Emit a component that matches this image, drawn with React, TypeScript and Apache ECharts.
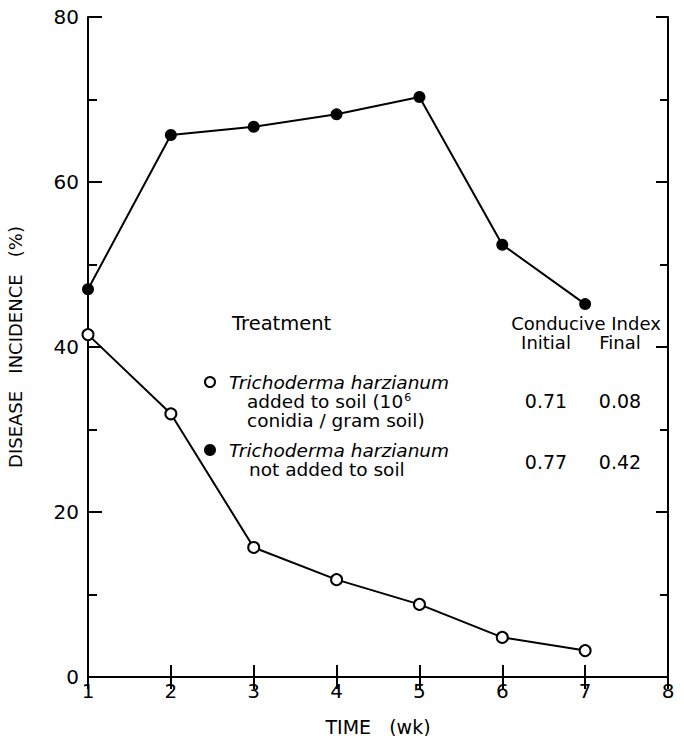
import React, { useEffect, useRef } from "react";
import * as echarts from "echarts";

const weeks = [1, 2, 3, 4, 5, 6, 7];
const notAdded = [47.0, 65.7, 66.7, 68.2, 70.3, 52.4, 45.2];
const added = [41.5, 31.9, 15.7, 11.8, 8.8, 4.8, 3.2];
const xTicks = [1, 2, 3, 4, 5, 6, 7, 8];
const yTicks = [0, 20, 40, 60, 80];
const indexHeader = ["Conducive Index", "Initial", "Final"];
const indexAdded = ["0.71", "0.08"];
const indexNotAdded = ["0.77", "0.42"];

const FONT = "DejaVu Sans";

function measure(text: string, font: string): number {
  const c = document.createElement("canvas").getContext("2d");
  if (!c) return text.length * 10;
  c.font = font;
  return c.measureText(text).width;
}

export default function App() {
  const ref = useRef<HTMLDivElement>(null);
  useEffect(() => {
    if (!ref.current) return;
    const chart = echarts.init(ref.current, null, { renderer: "svg" });
    const axisLine = { show: true, lineStyle: { color: "#000", width: 2 } };
    const txt = (x: number, y: number, text: string, size: number, extra: any = {}) => ({
      type: "text",
      x,
      y,
      style: {
        text,
        fill: "#000",
        font: `${size}px "${FONT}"`,
        lineHeight: size,
        textVerticalAlign: "middle",
        ...extra,
      },
    });
    const lineFont = `18.5px "${FONT}"`;
    const addedText = "added to soil (10";
    const supX = 247 + measure(addedText, lineFont) + 1;
    chart.setOption({
      animation: false,
      backgroundColor: "#fff",
      grid: { left: 88, right: 16, top: 17, bottom: 59, containLabel: false, outerBoundsMode: "none" },
      xAxis: [
        {
          type: "value",
          min: 1,
          max: 8,
          interval: 1,
          position: "bottom",
          axisLine,
          axisTick: { show: true, inside: true, length: 12, lineStyle: { color: "#000", width: 2 } },
          axisLabel: {
            color: "#000",
            fontFamily: FONT,
            fontSize: 20,
            margin: 4,
            formatter: (v: number) => (xTicks.includes(v) ? String(v) : ""),
          },
          splitLine: { show: false },
          name: "TIME   (wk)",
          nameLocation: "middle",
          nameGap: 40,
          nameTextStyle: { color: "#000", fontFamily: FONT, fontSize: 19 },
        },
        {
          type: "value",
          min: 1,
          max: 8,
          interval: 1,
          position: "top",
          axisLine,
          axisTick: { show: true, inside: true, length: 12, lineStyle: { color: "#000", width: 2 } },
          axisLabel: { show: false },
          splitLine: { show: false },
        },
      ],
      yAxis: [
        {
          type: "value",
          min: 0,
          max: 80,
          interval: 20,
          position: "left",
          axisLine,
          axisTick: { show: true, inside: true, length: 14, lineStyle: { color: "#000", width: 2 } },
          minorTick: { show: true, splitNumber: 2, length: 9, lineStyle: { color: "#000", width: 2 } },
          axisLabel: {
            color: "#000",
            fontFamily: FONT,
            fontSize: 20,
            margin: 9,
            formatter: (v: number) => (yTicks.includes(v) ? String(v) : ""),
          },
          splitLine: { show: false },
          name: "DISEASE   INCIDENCE   (%)",
          nameLocation: "middle",
          nameGap: 64,
          nameRotate: 90,
          nameTextStyle: { color: "#000", fontFamily: FONT, fontSize: 18 },
        },
        {
          type: "value",
          min: 0,
          max: 80,
          interval: 20,
          position: "right",
          axisLine,
          axisTick: { show: true, inside: true, length: 12, lineStyle: { color: "#000", width: 2 } },
          minorTick: { show: true, splitNumber: 2, length: 8, lineStyle: { color: "#000", width: 2 } },
          axisLabel: { show: false },
          splitLine: { show: false },
        },
      ],
      series: [
        {
          type: "line",
          xAxisIndex: 0,
          yAxisIndex: 0,
          data: weeks.map((w, i) => [w, notAdded[i]]),
          symbol: "circle",
          symbolSize: 12,
          clip: false,
          lineStyle: { color: "#000", width: 2 },
          itemStyle: { color: "#000", borderColor: "#000", borderWidth: 0 },
          z: 5,
        },
        {
          type: "line",
          xAxisIndex: 0,
          yAxisIndex: 0,
          data: weeks.map((w, i) => [w, added[i]]),
          symbol: "circle",
          symbolSize: 11,
          showAllSymbol: true,
          clip: false,
          lineStyle: { color: "#000", width: 2 },
          itemStyle: { color: "#fff", borderColor: "#000", borderWidth: 2 },
          z: 5,
        },
      ],
      graphic: [
        txt(232, 323, "Treatment", 19.5),
        { type: "circle", shape: { cx: 210, cy: 382, r: 5 }, style: { fill: "#fff", stroke: "#000", lineWidth: 2 } },
        txt(229, 382, "Trichoderma harzianum", 18.5, { font: `italic 18.5px "${FONT}"` }),
        txt(247, 401, addedText, 18.5),
        txt(supX, 397.5, "6", 11),
        txt(247, 420, "conidia / gram soil)", 18.5),
        { type: "circle", shape: { cx: 210, cy: 450, r: 6 }, style: { fill: "#000" } },
        txt(229, 450, "Trichoderma harzianum", 18.5, { font: `italic 18.5px "${FONT}"` }),
        txt(249, 469, "not added to soil", 18.5),
        txt(586, 323, indexHeader[0], 18, { textAlign: "center" }),
        txt(546, 342, indexHeader[1], 18, { textAlign: "center" }),
        txt(620, 342, indexHeader[2], 18, { textAlign: "center" }),
        txt(546, 401, indexAdded[0], 19, { textAlign: "center" }),
        txt(620, 401, indexAdded[1], 19, { textAlign: "center" }),
        txt(546, 462, indexNotAdded[0], 19, { textAlign: "center" }),
        txt(620, 462, indexNotAdded[1], 19, { textAlign: "center" }),
      ],
    });
    return () => chart.dispose();
  }, []);
  return (
    <div
      ref={ref}
      style={{ position: "fixed", left: 0, top: 0, width: 684, height: 736, background: "#fff" }}
    />
  );
}
